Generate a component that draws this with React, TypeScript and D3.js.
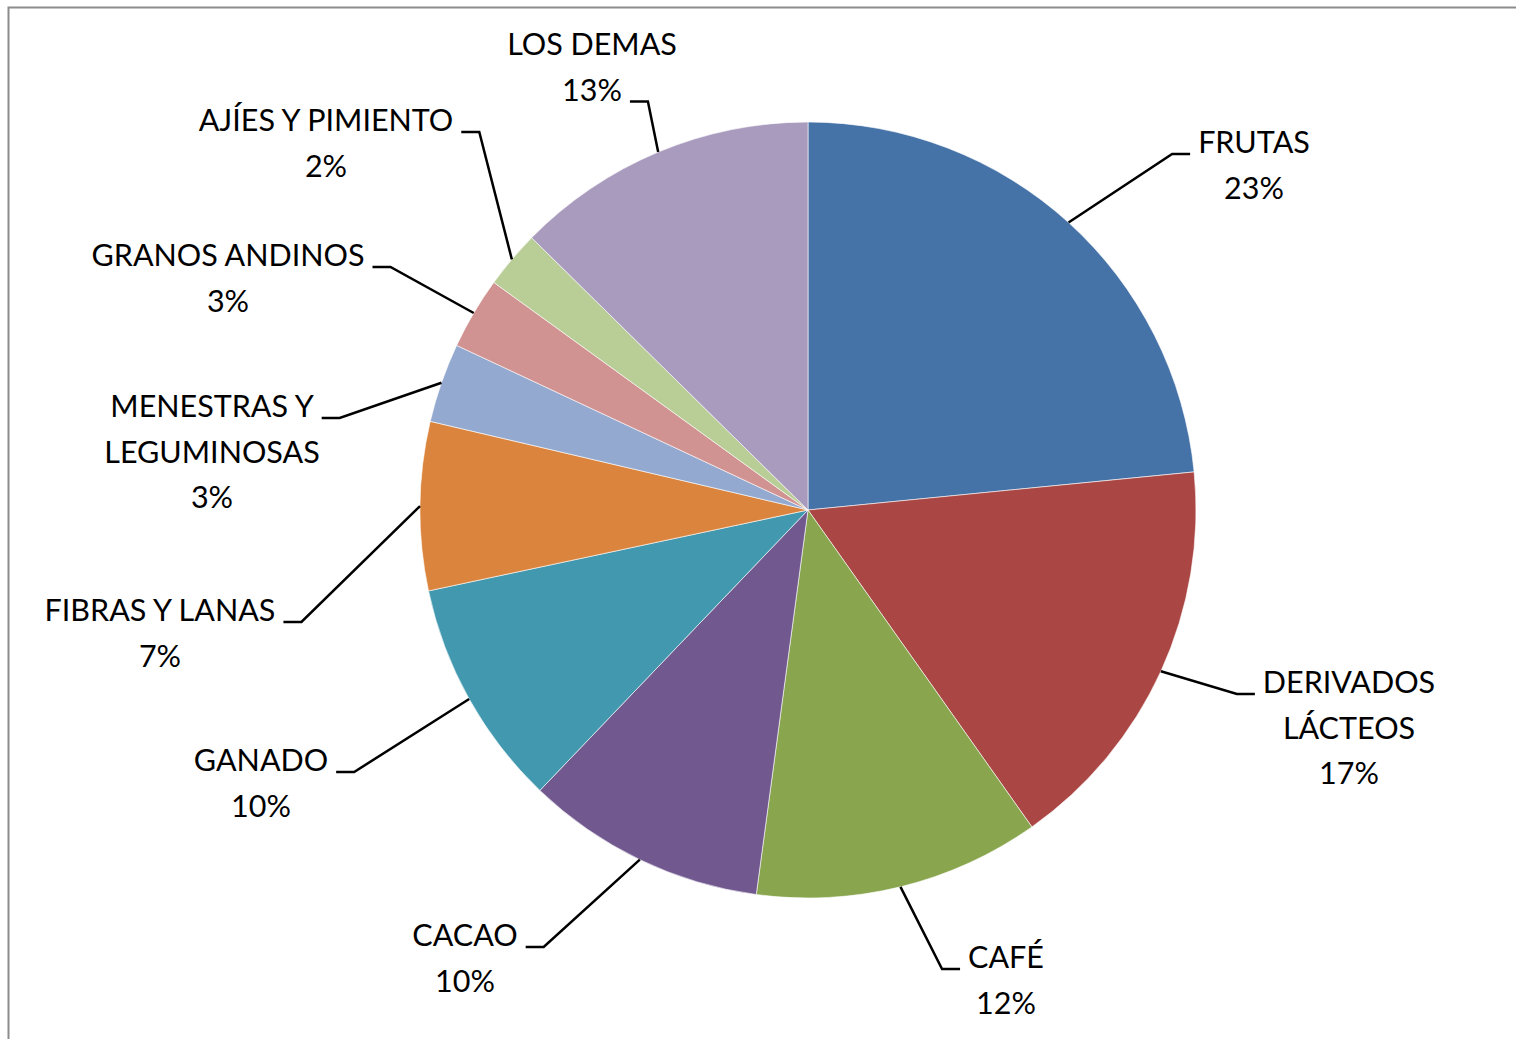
import React, { useRef, useEffect } from 'react';
import { select, pie, arc } from 'd3';

const W = 1516;
const H = 1039;
const cx = 808;
const cy = 510;
const R = 388;

// slice shares (degrees of arc / 3.6)
const categories = [
  'FRUTAS',
  'DERIVADOS LÁCTEOS',
  'CAFÉ',
  'CACAO',
  'GANADO',
  'FIBRAS Y LANAS',
  'MENESTRAS Y LEGUMINOSAS',
  'GRANOS ANDINOS',
  'AJÍES Y PIMIENTO',
  'LOS DEMAS',
];
const values = [23.4, 16.75, 11.9, 10.0, 9.5, 7.0, 3.3, 3.0, 2.4, 12.6];
const colors = [
  '#4572A7', '#AA4643', '#89A54E', '#71588F', '#4198AF',
  '#DB843D', '#93A9CF', '#D19392', '#B9CD96', '#A99BBD',
];
// how each category name is broken into lines
const labelLines = [
  ['FRUTAS'],
  ['DERIVADOS', 'LÁCTEOS'],
  ['CAFÉ'],
  ['CACAO'],
  ['GANADO'],
  ['FIBRAS Y LANAS'],
  ['MENESTRAS Y', 'LEGUMINOSAS'],
  ['GRANOS ANDINOS'],
  ['AJÍES Y PIMIENTO'],
  ['LOS DEMAS'],
];

// label placement: text centre, first baseline, which side the leader joins, and which line
const labelLayout = [
  { x: 1254, y: 153, side: 'left', line: 0 },
  { x: 1349, y: 693, side: 'left', line: 0 },
  { x: 1006, y: 968, side: 'left', line: 0 },
  { x: 465, y: 946, side: 'right', line: 0 },
  { x: 261, y: 771, side: 'right', line: 0 },
  { x: 160, y: 621, side: 'right', line: 0 },
  { x: 212, y: 417, side: 'right', line: 0 },
  { x: 228, y: 266, side: 'right', line: 0 },
  { x: 326, y: 131, side: 'right', line: 0 },
  { x: 592, y: 55, side: 'right', line: 1 },
];

const FONT = 'Lato, "Open Sans", sans-serif';
const FONT_SIZE = 30.5;
const LINE_H = 45.5;

const PieChart = () => {
  const svgRef = useRef(null);

  useEffect(() => {
    const svg = select(svgRef.current);
    svg.selectAll('*').remove();

    const total = values.reduce((a, b) => a + b, 0);
    const data = categories.map((c, i) => ({ name: c, value: values[i], i }));
    const arcs = pie<any>().sort(null).value((d) => d.value)(data);
    const slice = arc<any>().innerRadius(0).outerRadius(R);

    svg
      .append('rect')
      .attr('x', 8.5)
      .attr('y', 7.5)
      .attr('width', W + 20)
      .attr('height', H + 20)
      .attr('fill', 'white')
      .attr('stroke', '#8c8c8c')
      .attr('stroke-width', 2);

    const g = svg.append('g').attr('transform', `translate(${cx},${cy})`);
    g.selectAll('path')
      .data(arcs)
      .join('path')
      .attr('d', slice)
      .attr('fill', (d) => colors[d.data.i])
      .attr('stroke', 'white')
      .attr('stroke-width', 0.6);

    const labels = svg.append('g');
    const leaders = svg.append('g');

    arcs.forEach((a) => {
      const i = a.data.i;
      const lay = labelLayout[i];
      const pct = `${Math.round((a.data.value / total) * 100)}%`;
      const lines = [...labelLines[i], pct];

      const text = labels
        .append('text')
        .attr('text-anchor', 'middle')
        .attr('font-family', FONT)
        .attr('font-size', FONT_SIZE)
        .attr('fill', '#000');
      const spans = lines.map((l, k) =>
        text
          .append('tspan')
          .attr('x', lay.x)
          .attr('y', lay.y + k * LINE_H)
          .text(l)
      );

      const w = (spans[lay.line].node() as any).getComputedTextLength();
      const ly = lay.y + lay.line * LINE_H + 1;
      const gap = 8;
      const seg = 18;
      let x0, x1;
      if (lay.side === 'right') {
        x0 = lay.x + w / 2 + gap;
        x1 = x0 + seg;
      } else {
        x0 = lay.x - w / 2 - gap;
        x1 = x0 - seg;
      }
      const mid = (a.startAngle + a.endAngle) / 2;
      const rx = cx + R * Math.sin(mid);
      const ry = cy - R * Math.cos(mid);

      leaders
        .append('polyline')
        .attr('points', `${x0},${ly} ${x1},${ly} ${rx},${ry}`)
        .attr('fill', 'none')
        .attr('stroke', '#000')
        .attr('stroke-width', 2.5);
    });
  }, []);

  return (
    <svg
      ref={svgRef}
      width={W}
      height={H}
      style={{ position: 'absolute', left: 0, top: 0, background: 'white' }}
    />
  );
};

export default function App() {
  return <PieChart />;
}
